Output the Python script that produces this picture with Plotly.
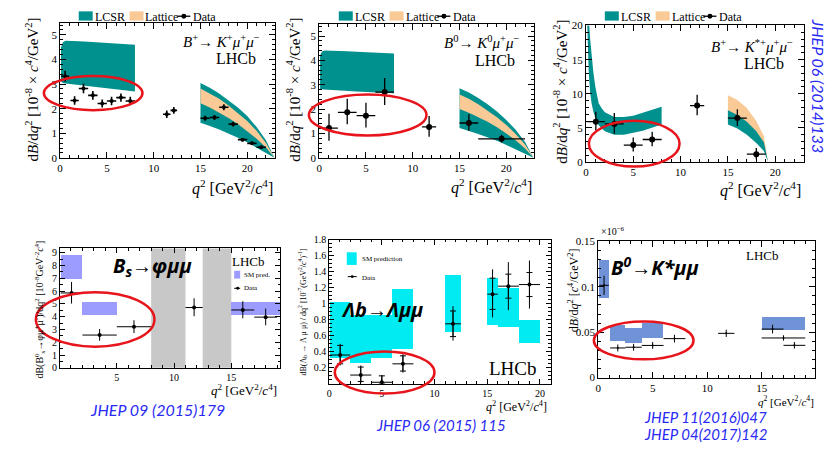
import plotly.graph_objects as go

W, H = 838, 452

# ---------------- data ----------------
# B+ -> K+ mu mu  (10^-8 c^4/GeV^2)
kp_lo = [0.1, 1.1, 2, 3, 4, 5, 6, 7, 11, 11.8, 15, 16, 17, 18, 19, 20, 21]
kp_hi = [0.98, 2, 3, 4, 5, 6, 7, 8, 11.8, 12.5, 16, 17, 18, 19, 20, 21, 22]
kp_y = [3.32, 2.33, 2.82, 2.54, 2.21, 2.31, 2.45, 2.31, 1.77, 1.93, 1.61, 1.64, 2.06, 1.37, 0.74, 0.59, 0.43]
kp_err = [0.22, 0.17, 0.19, 0.18, 0.16, 0.17, 0.17, 0.17, 0.15, 0.14, 0.1, 0.1, 0.12, 0.1, 0.07, 0.06, 0.05]
kp_lcsr_low_q2 = [0.1, 0.3, 0.6, 1, 2, 3, 4, 5, 6, 7, 8]
kp_lcsr_low_up = [4.5, 4.7, 4.76, 4.76, 4.74, 4.72, 4.7, 4.68, 4.66, 4.63, 4.6]
kp_lcsr_low_dn = [3.1, 3.04, 3.02, 3.0, 2.95, 2.9, 2.86, 2.82, 2.78, 2.74, 2.7]
kp_high_q2 = [15, 16, 17, 18, 19, 20, 21, 22, 22.9]
kp_lcsr_high_up = [3.04, 2.85, 2.62, 2.35, 2.05, 1.7, 1.25, 0.72, 0]
kp_lcsr_high_dn = [1.43, 1.3, 1.15, 1.0, 0.82, 0.63, 0.42, 0.2, 0]
kp_latt_up = [2.82, 2.62, 2.4, 2.13, 1.83, 1.5, 1.1, 0.6, 0]
kp_latt_dn = [2.22, 2.05, 1.85, 1.62, 1.38, 1.1, 0.78, 0.42, 0]

# B0 -> K0 mu mu
k0_lo = [0.1, 2, 4, 6, 11, 15, 17]
k0_hi = [2, 4, 6, 8, 12.5, 17, 22]
k0_y = [1.22, 1.87, 1.73, 2.70, 1.27, 1.43, 0.78]
k0_up = [0.59, 0.55, 0.53, 0.58, 0.45, 0.36, 0.17]
k0_dn = [0.52, 0.49, 0.48, 0.53, 0.40, 0.32, 0.15]
k0_lcsr_low_q2 = [0.1, 0.3, 0.6, 1, 2, 3, 4, 5, 6, 7, 8]
k0_lcsr_low_up = [4.2, 4.36, 4.4, 4.4, 4.39, 4.37, 4.35, 4.33, 4.31, 4.29, 4.28]
k0_lcsr_low_dn = [2.82, 2.8, 2.79, 2.78, 2.76, 2.74, 2.72, 2.7, 2.68, 2.66, 2.65]
k0_high_q2 = [15, 16, 17, 18, 19, 20, 21, 22, 22.9]
k0_lcsr_high_up = [2.86, 2.68, 2.46, 2.2, 1.9, 1.55, 1.15, 0.65, 0]
k0_lcsr_high_dn = [1.22, 1.1, 0.98, 0.85, 0.7, 0.53, 0.36, 0.17, 0]
k0_latt_up = [2.6, 2.42, 2.2, 1.95, 1.67, 1.35, 0.98, 0.55, 0]
k0_latt_dn = [2.0, 1.85, 1.68, 1.48, 1.26, 1.0, 0.72, 0.38, 0]

# B+ -> K*+ mu mu
ks_lo = [0.1, 2, 4, 6, 11, 15, 17]
ks_hi = [2, 4, 6, 8, 12.5, 17, 19]
ks_y = [5.92, 5.59, 2.49, 3.30, 8.28, 6.44, 1.16]
ks_up = [1.44, 1.59, 1.10, 1.13, 1.58, 1.29, 0.91]
ks_dn = [1.30, 1.44, 0.96, 1.00, 1.44, 1.15, 0.76]
ks_lcsr_low_q2 = [0.1, 0.2, 0.3, 0.45, 0.6, 0.8, 1.0, 1.35, 1.7, 2, 3, 4, 5, 6, 7, 8]
ks_lcsr_low_up = [34, 27, 21, 18, 15.7, 13, 11, 8.6, 7.8, 7.3, 6.6, 6.6, 6.8, 7.2, 7.6, 8.1]
ks_lcsr_low_dn = [22, 15.7, 13, 10.2, 8.6, 7.3, 6.5, 5.4, 4.9, 4.5, 4.0, 4.0, 4.3, 4.6, 5.0, 5.5]
ks_high_q2 = [15, 16, 17, 18, 18.8, 19.25]
ks_lcsr_high_up = [7.6, 6.9, 5.9, 4.5, 2.9, 0]
ks_lcsr_high_dn = [5.5, 4.9, 4.0, 2.8, 1.6, 0]
ks_latt_up = [9.8, 9.1, 7.9, 6.0, 3.8, 0]
ks_latt_dn = [7.0, 6.3, 5.3, 3.9, 2.4, 0]

# Bs -> phi mu mu (10^-8 GeV^-2 c^4)
phi_lo = [0.1, 2, 5, 11, 15, 17]
phi_hi = [2, 5, 8, 12.5, 17, 19]
phi_y = [5.85, 2.56, 3.21, 4.71, 4.52, 3.96]
phi_up = [0.86, 0.47, 0.51, 0.72, 0.68, 0.67]
phi_dn = [0.83, 0.44, 0.49, 0.68, 0.65, 0.64]
phi_sm_lo = [0.1, 2, 15]
phi_sm_hi = [2, 5, 19.25]
phi_sm_dn = [6.9, 4.06, 4.1]
phi_sm_up = [8.82, 5.15, 5.12]
phi_veto_lo = [8, 12.5]
phi_veto_hi = [11, 15]

# Lambda_b -> Lambda mu mu (10^-7 (GeV^2/c^4)^-1)
lb_lo = [0.1, 2, 4, 6, 11, 15, 16, 18]
lb_hi = [2, 4, 6, 8, 12.5, 16, 18, 20]
lb_y = [0.36, 0.11, 0.02, 0.25, 0.75, 1.12, 1.22, 1.24]
lb_up = [0.14, 0.12, 0.09, 0.12, 0.22, 0.31, 0.30, 0.30]
lb_dn = [0.13, 0.10, 0.02, 0.11, 0.21, 0.29, 0.30, 0.30]
lb_stat_up = [0.12, 0.10, 0.08, 0.10, 0.16, 0.20, 0.15, 0.15]
lb_stat_dn = [0.11, 0.08, 0.02, 0.09, 0.16, 0.19, 0.15, 0.15]
lb_sm_dn = [0.33, 0.26, 0.33, 0.44, 0.65, 0.74, 0.71, 0.52]
lb_sm_up = [1.03, 0.87, 0.86, 1.19, 1.36, 1.33, 1.20, 0.80]

# B0 -> K*0 mu mu (10^-6 c^4/GeV^2)
kst_lo = [0.1, 1.1, 2.5, 4, 6, 11, 15, 17, 15]
kst_hi = [0.98, 2.5, 4, 6, 8, 12.5, 17, 19, 19]
kst_y = [0.1016, 0.0326, 0.0334, 0.0354, 0.0429, 0.0487, 0.0534, 0.0355, 0.0436]
kst_err = [0.0105, 0.0038, 0.0038, 0.0038, 0.0042, 0.004, 0.0048, 0.0036, 0.003]
kst_sm_lo = [0.1, 1.1, 2.5, 4, 15]
kst_sm_hi = [0.98, 2.5, 4, 6, 19]
kst_sm_dn = [0.0875, 0.0404, 0.0375, 0.0429, 0.0518]
kst_sm_up = [0.1293, 0.0571, 0.0543, 0.0600, 0.0660]

# ---------------- styling ----------------
TEAL = "#00918f"
ORANGE = "#f9c996"
PHI_BOX = "#9c9cff"
LB_BOX = "#00ecf2"
KST_BOX = "#6f93d6"
VETO = "#c8c8c8"
SERIF = "Liberation Serif"
JHEP_FONT = "Lato"
JHEP_BLUE = "#2a2af5"


def px(x):
    return x / W


def py(y):
    return 1 - y / H


def centers(lo, hi):
    return [(a + b) / 2 for a, b in zip(lo, hi)]


def halfw(lo, hi):
    return [(b - a) / 2 for a, b in zip(lo, hi)]


fig = go.Figure()


def band(q2, up, dn, color, xa, ya):
    fig.add_trace(go.Scatter(
        x=list(q2) + list(q2)[::-1], y=list(up) + list(dn)[::-1],
        fill="toself", fillcolor=color, line=dict(width=0), mode="lines",
        hoverinfo="skip", showlegend=False, xaxis=xa, yaxis=ya))


def boxes(lo, hi, dn, up, color, xa, ya):
    fig.add_trace(go.Bar(
        x=centers(lo, hi), width=[b - a for a, b in zip(lo, hi)],
        base=dn, y=[u - d for u, d in zip(up, dn)],
        marker=dict(color=color, line=dict(width=0)),
        showlegend=False, xaxis=xa, yaxis=ya))


def points(lo, hi, y, up, dn, xa, ya, size=6, lw=1.3):
    fig.add_trace(go.Scatter(
        x=centers(lo, hi), y=y, mode="markers",
        marker=dict(color="black", size=size),
        error_x=dict(type="data", array=halfw(lo, hi), color="black", thickness=lw, width=0),
        error_y=dict(type="data", array=up, arrayminus=dn, color="black", thickness=lw, width=0),
        showlegend=False, xaxis=xa, yaxis=ya))


# top row
band(kp_lcsr_low_q2, kp_lcsr_low_up, kp_lcsr_low_dn, TEAL, "x", "y")
band(kp_high_q2, kp_lcsr_high_up, kp_lcsr_high_dn, TEAL, "x", "y")
band(kp_high_q2, kp_latt_up, kp_latt_dn, ORANGE, "x", "y")
points(kp_lo, kp_hi, kp_y, kp_err, kp_err, "x", "y", size=4, lw=1.6)

band(k0_lcsr_low_q2, k0_lcsr_low_up, k0_lcsr_low_dn, TEAL, "x2", "y2")
band(k0_high_q2, k0_lcsr_high_up, k0_lcsr_high_dn, TEAL, "x2", "y2")
band(k0_high_q2, k0_latt_up, k0_latt_dn, ORANGE, "x2", "y2")
points(k0_lo, k0_hi, k0_y, k0_up, k0_dn, "x2", "y2", size=6)

band(ks_lcsr_low_q2, ks_lcsr_low_up, ks_lcsr_low_dn, TEAL, "x3", "y3")
band(ks_high_q2, ks_latt_up, ks_latt_dn, ORANGE, "x3", "y3")
band(ks_high_q2, ks_lcsr_high_up, ks_lcsr_high_dn, TEAL, "x3", "y3")
points(ks_lo, ks_hi, ks_y, ks_up, ks_dn, "x3", "y3", size=6)

# bottom row
boxes(phi_sm_lo, phi_sm_hi, phi_sm_dn, phi_sm_up, PHI_BOX, "x4", "y4")
points(phi_lo, phi_hi, phi_y, phi_up, phi_dn, "x4", "y4", size=4, lw=1)

boxes(lb_lo, lb_hi, lb_sm_dn, lb_sm_up, LB_BOX, "x5", "y5")
points(lb_lo, lb_hi, lb_y, lb_up, lb_dn, "x5", "y5", size=4, lw=1)
fig.add_trace(go.Scatter(
    x=centers(lb_lo, lb_hi), y=lb_y, mode="markers",
    marker=dict(color="black", size=1),
    error_y=dict(type="data", array=lb_stat_up, arrayminus=lb_stat_dn,
                 color="black", thickness=1, width=3),
    showlegend=False, xaxis="x5", yaxis="y5"))

boxes(kst_sm_lo, kst_sm_hi, kst_sm_dn, kst_sm_up, KST_BOX, "x6", "y6")
points(kst_lo, kst_hi, kst_y, kst_err, kst_err, "x6", "y6", size=2, lw=1)

# ---------------- axes ----------------


def axis(dom, rng, dtick, minor, anchor, fsize=11, tick0=0, ticklen=6):
    return dict(domain=dom, range=rng, dtick=dtick, tick0=tick0, anchor=anchor,
                ticks="inside", ticklen=ticklen, tickwidth=1, tickcolor="black",
                showline=True, linecolor="black", linewidth=1, mirror="ticks",
                showgrid=False, zeroline=False, fixedrange=True,
                minor=dict(dtick=minor, tick0=0, ticks="inside", ticklen=ticklen / 2,
                           tickcolor="black", showgrid=False),
                tickfont=dict(family=SERIF, size=fsize, color="black"))


panels = {
    # panel: (left, right, top, bottom) in pixels
    1: (57.3, 273.3, 17, 156),
    2: (317.3, 533.3, 18.3, 156),
    3: (585, 803.5, 20, 160.3),
    4: (57.3, 278, 249, 371.7),
    5: (327.3, 549.5, 240, 388),
    6: (597.3, 815, 241.7, 381.7),
}


def dom(n):
    l, r, t, b = panels[n]
    return [px(l), px(r)], [py(b), py(t)]


xd, yd = dom(1)
fig.update_layout(xaxis=axis(xd, [0, 23], 5, 1, "y"), yaxis=axis(yd, [0, 5.5], 1, 0.2, "x"))
xd, yd = dom(2)
fig.update_layout(xaxis2=axis(xd, [0, 23], 5, 1, "y2"), yaxis2=axis(yd, [0, 5.5], 1, 0.2, "x2"))
xd, yd = dom(3)
fig.update_layout(xaxis3=axis(xd, [0, 23], 5, 1, "y3"), yaxis3=axis(yd, [0, 20.01], 5, 1, "x3"))
xd, yd = dom(4)
fig.update_layout(xaxis4=axis(xd, [0.05, 19.25], 5, 1, "y4", fsize=10, ticklen=5),
                  yaxis4=axis(yd, [0, 9.33], 1, 0.5, "x4", fsize=10, ticklen=5))
xd, yd = dom(5)
fig.update_layout(xaxis5=axis(xd, [0, 21], 5, 1, "y5", fsize=10, ticklen=5),
                  yaxis5=axis(yd, [0.002, 1.801], 0.2, 0.05, "x5", fsize=10, ticklen=5))
xd, yd = dom(6)
fig.update_layout(xaxis6=axis(xd, [0, 19.9], 5, 1, "y6", fsize=11, ticklen=6),
                  yaxis6=axis(yd, [0, 0.1501], 0.05, 0.01, "x6", fsize=11, ticklen=6))

shapes = []

# veto regions for the phi mu mu panel
for lo, hi in zip(phi_veto_lo, phi_veto_hi):
    shapes.append(dict(type="rect", xref="x4", yref="y4 domain", x0=lo, x1=hi, y0=0, y1=1,
                       fillcolor=VETO, line=dict(width=0), layer="below"))

# ---------------- texts ----------------
ann = []


def text(x, y, s, size=12, family=SERIF, color="black", anchor="center", angle=0, yanchor="middle"):
    ann.append(dict(x=px(x), y=py(y), xref="paper", yref="paper", text=s, showarrow=False,
                    xanchor=anchor, yanchor=yanchor, textangle=angle,
                    font=dict(family=family, size=size, color=color)))


ytitle_top = "d<i>B</i>/d<i>q</i><sup>2</sup> [10<sup>-8</sup> × <i>c</i><sup>4</sup>/GeV<sup>2</sup>]"
xtitle = "<i>q</i><sup>2</sup> [GeV<sup>2</sup>/<i>c</i><sup>4</sup>]"

text(29, 86, ytitle_top, size=15, angle=-90)
text(291, 86, ytitle_top, size=15, angle=-90)
text(559, 88, ytitle_top, size=15, angle=-90)
text(273, 186, xtitle, size=16, anchor="right")
text(533, 185, xtitle, size=16, anchor="right")
text(803, 188, xtitle, size=16, anchor="right")

text(260, 36, "<i>B</i><sup>+</sup>→ <i>K</i><sup>+</sup><i>μ</i><sup>+</sup><i>μ</i><sup>−</sup>", size=15, anchor="right")
text(256, 54, "LHCb", size=16, anchor="right")
text(520, 37, "<i>B</i><sup>0</sup>→ <i>K</i><sup>0</sup><i>μ</i><sup>+</sup><i>μ</i><sup>−</sup>", size=15, anchor="right")
text(516, 56, "LHCb", size=16, anchor="right")
text(795, 41, "<i>B</i><sup>+</sup>→ <i>K</i><sup>*+</sup><i>μ</i><sup>+</sup><i>μ</i><sup>−</sup>", size=15, anchor="right")
text(786, 59, "LHCb", size=16, anchor="right")

# legends of the top row
for x0 in (76, 337, 604):
    shapes.append(dict(type="rect", xref="paper", yref="paper", x0=px(x0), x1=px(x0 + 14),
                       y0=py(15), y1=py(5.5), fillcolor=TEAL, line=dict(width=0)))
    text(x0 + 14, 11, "LCSR", size=12, anchor="left")
    shapes.append(dict(type="rect", xref="paper", yref="paper", x0=px(x0 + 51), x1=px(x0 + 65),
                       y0=py(15), y1=py(5.5), fillcolor=ORANGE, line=dict(width=0)))
    text(x0 + 65, 11, "Lattice", size=12, anchor="left")
    shapes.append(dict(type="line", xref="paper", yref="paper", x0=px(x0 + 99), x1=px(x0 + 112),
                       y0=py(10.5), y1=py(10.5), line=dict(color="black", width=1.3)))
    shapes.append(dict(type="circle", xref="paper", yref="paper", x0=px(x0 + 103), x1=px(x0 + 108),
                       y0=py(13), y1=py(8), fillcolor="black", line=dict(width=0)))
    text(x0 + 113, 11, "Data", size=12, anchor="left")

text(818, 82, "<i>JHEP 06 (2014)133</i>", size=16, family=JHEP_FONT, color=JHEP_BLUE, angle=90)

# bottom-left panel
text(37, 312, "dB(B<sup>0</sup><sub>s</sub>→φμ<sup>+</sup>μ<sup>-</sup>)/dq<sup>2</sup> [10<sup>-8</sup>GeV<sup>-2</sup><i>c</i><sup>4</sup>]",
     size=10, angle=-90)
text(277, 394, xtitle, size=13, anchor="right")
text(150, 268, "<b><i>B<sub>s</sub>→φμμ</i></b>", size=20, family="Open Sans")
text(246, 262, "LHCb", size=13)
shapes.append(dict(type="rect", xref="paper", yref="paper", x0=px(232), x1=px(238),
                   y0=py(280), y1=py(272), fillcolor=PHI_BOX, line=dict(width=0)))
text(240, 276, "SM pred.", size=7, anchor="left")
shapes.append(dict(type="line", xref="paper", yref="paper", x0=px(232), x1=px(238),
                   y0=py(290), y1=py(290), line=dict(color="black", width=1)))
shapes.append(dict(type="circle", xref="paper", yref="paper", x0=px(234), x1=px(237),
                   y0=py(291.5), y1=py(288.5), fillcolor="black", line=dict(width=0)))
text(240, 290, "Data", size=7, anchor="left")
text(155, 414, "<i>JHEP 09 (2015)179</i>", size=16, family=JHEP_FONT, color=JHEP_BLUE)

# bottom-middle panel
text(301, 314, "dB(Λ<sub>b</sub> → Λ μ μ) / dq<sup>2</sup> [10<sup>-7</sup>(GeV<sup>2</sup>/<i>c</i><sup>4</sup>)<sup>-1</sup>]",
     size=8, angle=-90)
text(548, 411, xtitle, size=12, anchor="right")
text(380, 312, "<b><i>Λb→Λμμ</i></b>", size=20, family="Open Sans")
text(512, 372, "LHCb", size=19)
shapes.append(dict(type="rect", xref="paper", yref="paper", x0=px(345), x1=px(355),
                   y0=py(266), y1=py(253), fillcolor=LB_BOX, line=dict(width=0)))
text(358, 260, "SM prediction", size=7, anchor="left")
shapes.append(dict(type="line", xref="paper", yref="paper", x0=px(346), x1=px(355),
                   y0=py(278), y1=py(278), line=dict(color="black", width=1)))
shapes.append(dict(type="circle", xref="paper", yref="paper", x0=px(349), x1=px(352),
                   y0=py(279.5), y1=py(276.5), fillcolor="black", line=dict(width=0)))
text(358, 279, "Data", size=7, anchor="left")
text(440, 430, "<i>JHEP 06 (2015) 115</i>", size=15, family=JHEP_FONT, color=JHEP_BLUE)

# bottom-right panel
text(572, 292, "d<i>B</i>/d<i>q</i><sup>2</sup> [<i>c</i><sup>4</sup>/GeV<sup>2</sup>]", size=12, angle=-90)
text(816, 406, xtitle, size=11, anchor="right")
text(598, 231, "×10<sup>−6</sup>", size=10, anchor="left")
text(762, 256, "LHCb", size=13)
text(654, 268, "<b><i>B<sup>0</sup>→K*μμ</i></b>", size=20, family="Open Sans")
text(705, 422, "<i>JHEP 11(2016)047</i>", size=15, family=JHEP_FONT, color=JHEP_BLUE)
text(705, 440, "<i>JHEP 04(2017)142</i>", size=15, family=JHEP_FONT, color=JHEP_BLUE)

# highlighted regions
for (x0, x1, y0, y1) in [(41, 140, 72, 107), (307, 425, 91, 133), (588, 679, 118, 165),
                         (33, 152, 294, 350), (333, 433, 355, 398), (593, 693, 324, 363)]:
    shapes.append(dict(type="circle", xref="paper", yref="paper", x0=px(x0), x1=px(x1),
                       y0=py(y1), y1=py(y0), line=dict(color="#e8141b", width=2.5)))

fig.update_layout(width=W, height=H, margin=dict(l=0, r=0, t=0, b=0),
                  paper_bgcolor="white", plot_bgcolor="white", showlegend=False,
                  bargap=0, annotations=ann, shapes=shapes)

fig.write_html("out.html")
